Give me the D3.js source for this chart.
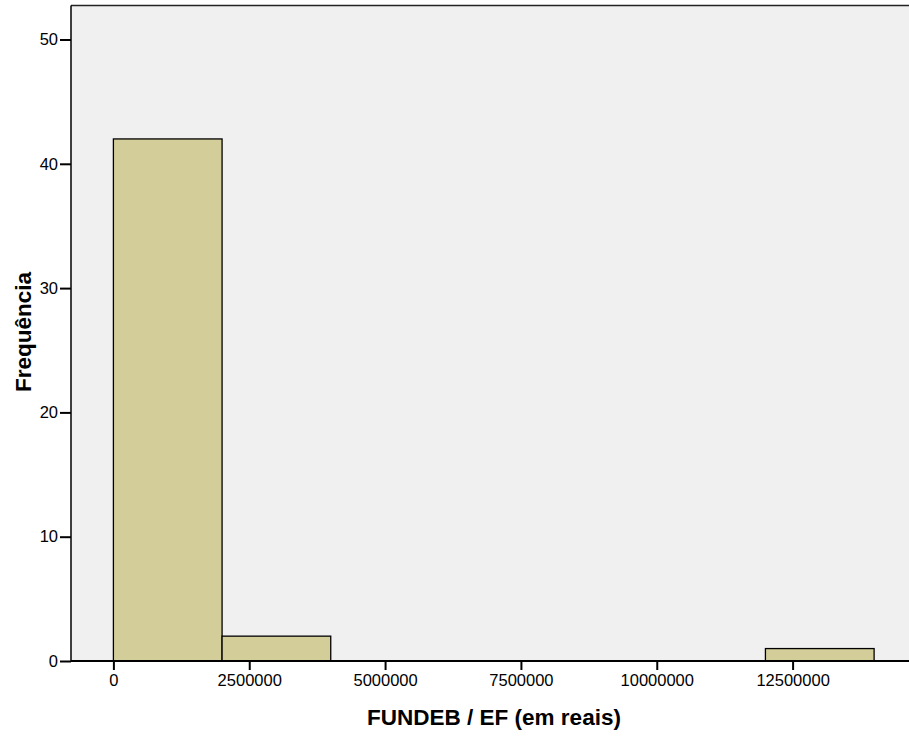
<!DOCTYPE html>
<html><head><meta charset="utf-8">
<script src="https://cdn.jsdelivr.net/npm/d3@7"></script>
<style>html,body{margin:0;padding:0;background:#fff;}svg{display:block;font-family:"Liberation Sans",Arial,sans-serif;}</style>
</head><body>
<script>
// Histogram bins (lower edge, upper edge) and frequencies
const binStarts = [0, 2000000, 4000000, 6000000, 8000000, 10000000, 12000000];
const binEnds   = [2000000, 4000000, 6000000, 8000000, 10000000, 12000000, 14000000];
const counts    = [42, 2, 0, 0, 0, 0, 1];
const xTicks = [0, 2500000, 5000000, 7500000, 10000000, 12500000];
const yTicks = [0, 10, 20, 30, 40, 50];
const xTitle = "FUNDEB / EF (em reais)";
const yTitle = "Frequência";

const W = 909, H = 738;
const plotL = 71, plotR = 909, plotT = 5.5, plotB = 661;

const svg = d3.select("body").append("svg").attr("width", W).attr("height", H);

const x = d3.scaleLinear().domain([0, 12500000]).range([113.4, 792.6]);
const y = d3.scaleLinear().domain([0, 50]).range([plotB, 39.5]);

svg.append("rect").attr("x", plotL).attr("y", plotT).attr("width", plotR - plotL).attr("height", plotB - plotT)
  .attr("fill", "#f0f0f0");

const data = counts.map((c, i) => ({x0: binStarts[i], x1: binEnds[i], c}));
svg.append("g").selectAll("rect").data(data.filter(d => d.c > 0)).join("rect")
  .attr("x", d => x(d.x0)).attr("width", d => x(d.x1) - x(d.x0))
  .attr("y", d => y(d.c)).attr("height", d => y(0) - y(d.c))
  .attr("fill", "#d3ce99").attr("stroke", "#000").attr("stroke-width", 1.3);

// frame lines (top and left)
svg.append("line").attr("x1", plotL).attr("x2", plotR).attr("y1", plotT).attr("y2", plotT)
  .attr("stroke", "#222").attr("stroke-width", 1.5);

const yAxis = svg.append("g").attr("transform", `translate(${plotL},0)`)
  .call(d3.axisLeft(y).tickValues(yTicks).tickSize(11).tickPadding(2).tickFormat(d3.format("d")));
yAxis.select(".domain").remove();
yAxis.append("line").attr("x1", 0).attr("x2", 0).attr("y1", plotT).attr("y2", plotB).attr("stroke", "#000").attr("stroke-width", 1.5);
yAxis.selectAll(".tick line").attr("stroke-width", 2);
yAxis.selectAll("text").attr("font-size", 16.5).attr("fill", "#000").attr("font-family", "Liberation Sans, Arial, sans-serif");

const xAxis = svg.append("g").attr("transform", `translate(0,${plotB})`)
  .call(d3.axisBottom(x).tickValues(xTicks).tickSize(9).tickPadding(4).tickFormat(d3.format("d")));
xAxis.select(".domain").remove();
xAxis.append("line").attr("x1", plotL).attr("x2", plotR).attr("y1", 0).attr("y2", 0).attr("stroke", "#000").attr("stroke-width", 2);
xAxis.selectAll(".tick line").attr("stroke-width", 2);
xAxis.selectAll("text").attr("font-size", 16.5).attr("fill", "#000").attr("font-family", "Liberation Sans, Arial, sans-serif");

svg.append("text").attr("x", 494).attr("y", 725).attr("text-anchor", "middle")
  .attr("font-size", 22.5).attr("font-weight", "bold").attr("fill", "#000").text(xTitle);
svg.append("text").attr("transform", "translate(31,332) rotate(-90)").attr("text-anchor", "middle")
  .attr("font-size", 22.5).attr("font-weight", "bold").attr("fill", "#000").text(yTitle);
</script>
</body></html>
